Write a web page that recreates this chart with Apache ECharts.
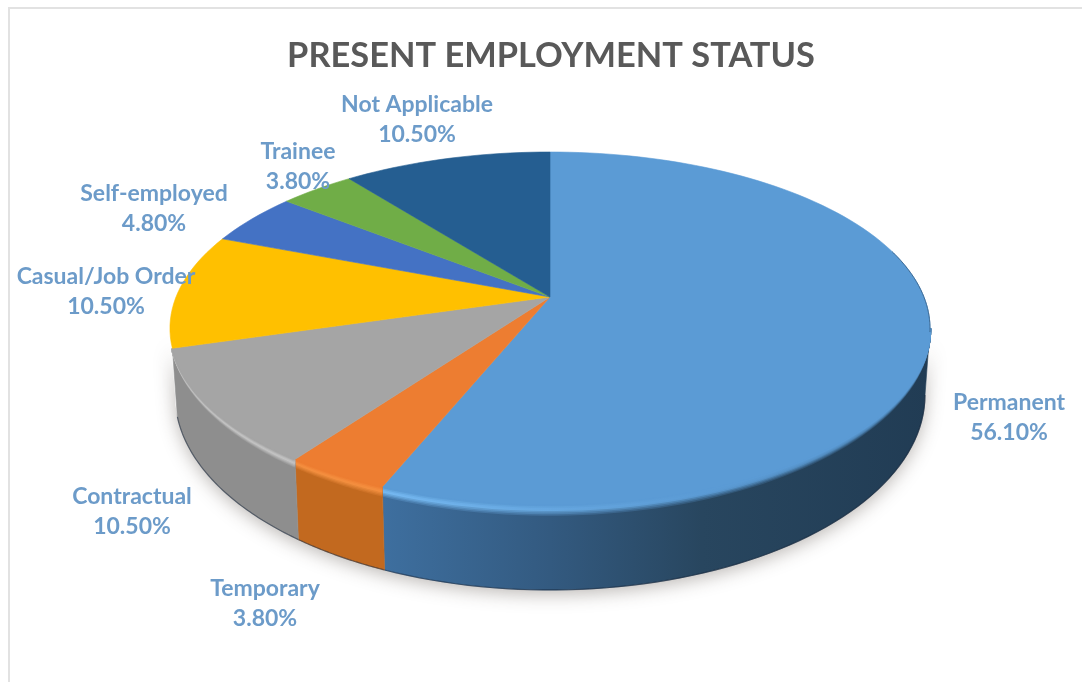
<!DOCTYPE html>
<html>
<head>
<meta charset="utf-8">
<style>
    html, body { margin: 0; padding: 0; background: #fff; }
    #chart { width: 1082px; height: 682px; }
</style>
<script src="https://cdn.jsdelivr.net/npm/echarts@6/dist/echarts.min.js"></script>
</head>
<body>
<div id="chart"></div>
<script>
// chart values
var categories = ['Permanent', 'Temporary', 'Contractual', 'Casual/Job Order', 'Self-employed', 'Trainee', 'Not Applicable'];
var shares = [56.1, 3.8, 10.5, 10.5, 4.8, 3.8, 10.5];
var chartTitle = 'PRESENT EMPLOYMENT STATUS';

// styling per slice
var topColors = ['#5b9bd5', '#ed7d31', '#a5a5a5', '#ffc000', '#4472c4', '#70ad47', '#255e91'];
// [gradient offset, wall colour, rim highlight], null = wall not visible
var wallShades = [
    [[0.28, '#3e6f9f', '#78bcf5'], [0.5, '#335a80', '#69abe4'], [0.7, '#28465f', '#5b9bd5'], [1, '#213c54', '#4a80b0']],
    [[0, '#c2691f', '#f59040'], [1, '#c2691f', '#f59040']],
    [[0, '#8e8e8e', '#c6c6c6'], [1, '#8e8e8e', '#c6c6c6']],
    null, null, null, null
];
var labelSpots = [[1009, 418], [265, 604], [132, 512], [106, 292], [154, 209], [298, 167], [417, 120]];

// pie geometry: circle seen in perspective, apex sits above the ellipse centre
var cx = 550, apexY = 297, persp = 0.178, spanX = 374, spanY = 170.8;
var topRing = { rx: 380, cy: 328.5, ry: 176.5 };
var baseRing = { rx: 375, cy: 395, ry: 195 };
var bevelDepth = 11;

var total = shares.reduce(function (a, b) { return a + b; }, 0);
var bounds = [0];
shares.forEach(function (v, i) { bounds.push(bounds[i] + v / total); });

function rimPoint(frac) {
    var a = frac * Math.PI * 2;
    var u = Math.sin(a), v = -Math.cos(a), d = 1 - persp * v;
    return [cx + spanX * u / d, apexY + spanY * v / d];
}
function ringAngle(frac) {
    var p = rimPoint(frac);
    var t = Math.atan2((p[1] - topRing.cy) / topRing.ry, (p[0] - cx) / topRing.rx);
    return t < -Math.PI / 2 ? t + Math.PI * 2 : t;
}
function arc(ring, t0, t1, extra) {
    var pts = [], n = 60;
    for (var i = 0; i <= n; i++) {
        var t = t0 + (t1 - t0) * i / n;
        pts.push([cx + ring.rx * Math.cos(t), ring.cy + (ring.ry + (extra || 0)) * Math.sin(t)]);
    }
    return pts;
}
function shadeGradient(stops) {
    return new echarts.graphic.LinearGradient(170, 0, 930, 0, stops.map(function (s) {
        return { offset: s[0], color: s[1] };
    }), true);
}

function renderWall(params) {
    var i = params.dataIndex, children = [];
    if (i === 0) {
        // soft shadow under the disc
        children.push({
            type: 'polygon',
            shape: { points: arc(baseRing, 0, Math.PI).concat(arc(topRing, Math.PI, 0)) },
            style: { fill: '#fff', shadowBlur: 18, shadowColor: 'rgba(60,50,40,0.35)', shadowOffsetY: 4 }
        });
    }
    var shades = wallShades[i];
    if (!shades) return { type: 'group', children: children };
    var t0 = Math.max(ringAngle(bounds[i]), 0), t1 = ringAngle(bounds[i + 1]);
    var wall = shadeGradient(shades.map(function (s) { return [s[0], s[1]]; }));
    children.push({
        type: 'polygon',
        shape: { points: arc(topRing, t0, t1).concat(arc(baseRing, t1, t0)) },
        style: { fill: wall, stroke: wall, lineWidth: 0.6 }
    });
    children.push({
        type: 'polyline',
        shape: { points: arc(baseRing, t0, t1) },
        style: { fill: null, stroke: 'rgba(20,35,55,0.55)', lineWidth: 1.2 }
    });
    // rounded edge between top face and wall
    var steps = 7;
    for (var s = steps; s >= 0; s--) {
        var l = s / steps;
        var stops = shades.map(function (sh) {
            var c = l < 0.4
                ? echarts.color.lerp(l / 0.4, [topColors[i], sh[2]])
                : echarts.color.lerp((l - 0.4) / 0.6, [sh[2], sh[1]]);
            return [sh[0], c];
        });
        children.push({
            type: 'polyline',
            shape: { points: arc(topRing, t0, t1, bevelDepth * l) },
            style: { fill: null, stroke: shadeGradient(stops), lineWidth: 2.6 }
        });
    }
    return { type: 'group', children: children };
}

function renderTop(params) {
    var i = params.dataIndex, pts = [[cx, apexY]], n = Math.max(8, Math.ceil(shares[i] * 2));
    for (var k = 0; k <= n; k++) {
        pts.push(rimPoint(bounds[i] + (bounds[i + 1] - bounds[i]) * k / n));
    }
    var children = [{
        type: 'polygon',
        shape: { points: pts },
        style: { fill: topColors[i], stroke: topColors[i], lineWidth: 0.6 }
    }];
    if (i === 0) {
        children.push({
            type: 'polyline',
            shape: { points: arc(topRing, -0.45, 0.02) },
            style: { fill: null, stroke: '#3d6a94', lineWidth: 1 }
        });
    }
    return { type: 'group', children: children };
}

function renderLabel(params) {
    var i = params.dataIndex;
    return {
        type: 'text',
        style: {
            text: categories[i] + '\n' + shares[i].toFixed(2) + '%',
            x: labelSpots[i][0],
            y: labelSpots[i][1],
            align: 'center',
            verticalAlign: 'middle',
            fill: '#6c9bc9',
            font: 'bold 23px Lato',
            lineHeight: 30
        }
    };
}

var myChart = echarts.init(document.getElementById('chart'));
var option = {
    animation: false,
    backgroundColor: '#fff',
    title: {
        text: chartTitle,
        left: 546,
        textAlign: 'center',
        top: 34,
        textStyle: { color: '#595959', fontFamily: 'Lato', fontWeight: 'bold', fontSize: 34.4 }
    },
    graphic: [{
        type: 'polyline',
        shape: { points: [[9, 690], [9, 8], [1090, 8]] },
        style: { fill: null, stroke: '#e2e2e2', lineWidth: 2 }
    }],
    series: [
        { type: 'custom', coordinateSystem: 'none', renderItem: renderWall, data: shares, silent: true },
        { type: 'custom', coordinateSystem: 'none', renderItem: renderTop, data: shares, silent: true },
        { type: 'custom', coordinateSystem: 'none', renderItem: renderLabel, data: shares, silent: true }
    ]
};
myChart.setOption(option);
window.addEventListener('resize', function () {
    myChart.resize();
});
</script>
</body>
</html>
